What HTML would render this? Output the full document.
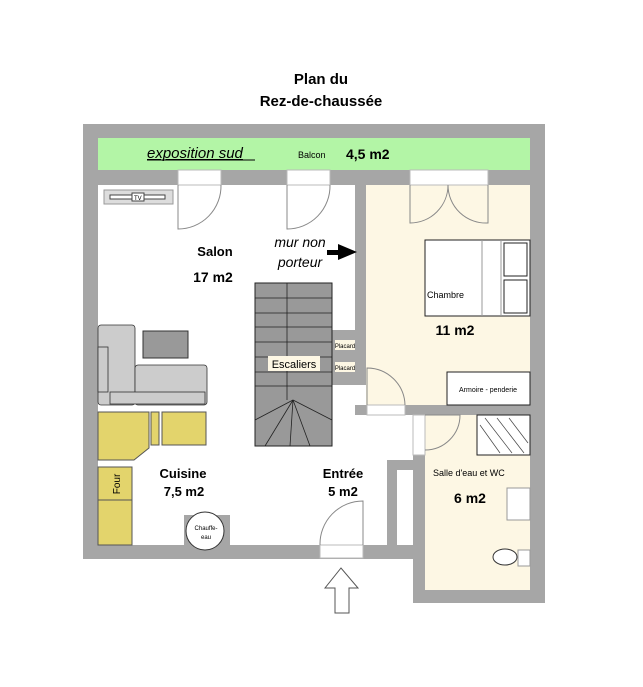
<!DOCTYPE html>
<html><head><style>body{margin:0;background:#fff}svg{display:block}text{font-family:"Liberation Sans",sans-serif}</style></head><body>
<svg width="643" height="687" viewBox="0 0 643 687">
<text x="321" y="84" font-size="15" font-weight="bold" text-anchor="middle">Plan du</text>
<text x="321" y="106" font-size="15" font-weight="bold" text-anchor="middle">Rez-de-chaussée</text>
<!-- outer walls -->
<rect x="83" y="124" width="462" height="435" fill="#a6a6a6"/>
<rect x="413" y="400" width="132" height="203" fill="#a6a6a6"/>
<rect x="98" y="138" width="432" height="32" fill="#b3f5a6"/>
<rect x="98" y="185" width="257" height="360" fill="#fff"/>
<rect x="332" y="330" width="23" height="55" fill="#a6a6a6"/>
<rect x="355" y="385" width="58" height="160" fill="#fff"/>
<rect x="355" y="405" width="58" height="10" fill="#a6a6a6"/>
<rect x="366" y="185" width="164" height="220" fill="#fdf7e4"/>
<rect x="425" y="415" width="105" height="175" fill="#fdf7e4"/>
<rect x="387" y="460" width="26" height="85" fill="#a6a6a6"/>
<rect x="397" y="470" width="16" height="75" fill="#fff"/>
<rect x="184" y="515" width="46" height="30" fill="#a6a6a6"/>
<!-- balcony text -->
<text x="147" y="158" font-size="15" font-style="italic" text-decoration="underline">exposition sud</text>
<line x1="147" y1="160" x2="255" y2="160" stroke="#000"/>
<text x="298" y="158" font-size="9">Balcon</text>
<text x="346" y="159" font-size="14" font-weight="bold">4,5 m2</text>
<!-- balcony doors -->
<g fill="#fff" stroke="#bbb"><rect x="178" y="170" width="43" height="15"/><rect x="287" y="170" width="43" height="15"/><rect x="410" y="170" width="78" height="15"/>
<rect x="367" y="405" width="38" height="10"/><rect x="413" y="415" width="12" height="40"/><rect x="320" y="545" width="43" height="13"/></g>
<g fill="none" stroke="#888"><path d="M178 185 V229 A43 43 0 0 0 221 185"/><path d="M287 185 V229 A43 43 0 0 0 330 185"/>
<path d="M410 185 V223 A38 38 0 0 0 448 185 A38 38 0 0 0 488 223 V185"/><path d="M367 405 V368 A38 38 0 0 1 405 405"/>
<path d="M425 415 H460 A35 35 0 0 1 425 450"/><path d="M363 545 V501 A43 43 0 0 0 320 545"/></g>
<!-- TV -->
<rect x="104" y="190" width="69" height="14" fill="#ddd" stroke="#999"/><rect x="110" y="195" width="55" height="4" fill="#fff" stroke="#444"/><rect x="132" y="193" width="12" height="8" fill="#fff" stroke="#444"/><text x="134" y="200" font-size="6">TV</text>
<text x="215" y="256" font-size="13" font-weight="bold" text-anchor="middle">Salon</text>
<text x="213" y="282" font-size="14" font-weight="bold" text-anchor="middle">17 m2</text>
<text x="300" y="247" font-size="14" font-style="italic" text-anchor="middle">mur non</text>
<text x="300" y="267" font-size="14" font-style="italic" text-anchor="middle">porteur</text>
<path d="M327 250 H338 V244 L357 252 L338 260 V255 H327Z" fill="#000"/>
<!-- sofa -->
<g fill="#ccc" stroke="#333" stroke-width="0.8"><rect x="98" y="325" width="37" height="80" rx="3"/><rect x="135" y="365" width="72" height="40" rx="3"/><rect x="98" y="347" width="10" height="45"/><rect x="110" y="392" width="95" height="12"/></g>
<rect x="143" y="331" width="45" height="27" fill="#999" stroke="#333"/>
<!-- stairs -->
<rect x="255" y="283" width="77" height="163" fill="#999" stroke="#222"/>
<g stroke="#222" stroke-width="0.8"><line x1="287" y1="283" x2="287" y2="400"/>
<line x1="255" y1="298" x2="332" y2="298"/><line x1="255" y1="313" x2="332" y2="313"/><line x1="255" y1="327" x2="332" y2="327"/><line x1="255" y1="342" x2="332" y2="342"/><line x1="255" y1="357" x2="332" y2="357"/><line x1="255" y1="372" x2="332" y2="372"/><line x1="255" y1="386" x2="332" y2="386"/>
<line x1="293" y1="400" x2="255" y2="420"/><line x1="293" y1="400" x2="265" y2="446"/><line x1="293" y1="400" x2="290" y2="446"/><line x1="293" y1="400" x2="310" y2="446"/><line x1="293" y1="400" x2="332" y2="420"/></g>
<rect x="268" y="356" width="52" height="15" fill="#fdf7e4"/><text x="294" y="368" font-size="11" text-anchor="middle">Escaliers</text>
<rect x="335" y="340" width="20" height="10" fill="#fdf7e4"/><text x="345" y="348" font-size="6" text-anchor="middle">Placard</text>
<rect x="335" y="362" width="20" height="10" fill="#fdf7e4"/><text x="345" y="370" font-size="6" text-anchor="middle">Placard</text>
<!-- chambre -->
<rect x="425" y="240" width="105" height="76" fill="#fff" stroke="#222"/><line x1="482" y1="240" x2="482" y2="316" stroke="#999"/><line x1="501" y1="240" x2="501" y2="316" stroke="#999"/>
<rect x="504" y="243" width="23" height="33" fill="#fff" stroke="#222"/><rect x="504" y="280" width="23" height="33" fill="#fff" stroke="#222"/>
<text x="427" y="298" font-size="9">Chambre</text>
<text x="455" y="335" font-size="14" font-weight="bold" text-anchor="middle">11 m2</text>
<rect x="447" y="372" width="83" height="33" fill="#fff" stroke="#222"/><text x="488" y="392" font-size="7" font-family="Liberation Serif" text-anchor="middle">Armoire - penderie</text>
<!-- kitchen -->
<g fill="#e3d46c" stroke="#555"><path d="M98 412 H149 V448 L134 460 H98Z"/><rect x="151" y="412" width="8" height="33"/><rect x="162" y="412" width="44" height="33"/><rect x="98" y="467" width="34" height="33"/><rect x="98" y="500" width="34" height="45"/></g>
<text transform="translate(120,484) rotate(-90)" font-size="10" text-anchor="middle">Four</text>
<text x="183" y="478" font-size="13" font-weight="bold" text-anchor="middle">Cuisine</text>
<text x="184" y="496" font-size="13" font-weight="bold" text-anchor="middle">7,5 m2</text>
<circle cx="205" cy="531" r="19" fill="#fff" stroke="#333"/><text x="206" y="530" font-size="6" text-anchor="middle">Chauffe-</text><text x="206" y="539" font-size="6" text-anchor="middle">eau</text>
<text x="343" y="478" font-size="13" font-weight="bold" text-anchor="middle">Entrée</text>
<text x="343" y="496" font-size="13" font-weight="bold" text-anchor="middle">5 m2</text>
<path d="M335 613 V588 H325 L341 568 L358 588 H349 V613Z" fill="#fff" stroke="#555"/>
<!-- salle d'eau -->
<rect x="477" y="415" width="53" height="40" fill="#fff" stroke="#222"/>
<g stroke="#444" stroke-width="0.7"><line x1="480" y1="425" x2="500" y2="453"/><line x1="485" y1="418" x2="512" y2="453"/><line x1="497" y1="418" x2="524" y2="453"/><line x1="509" y1="418" x2="528" y2="443"/></g>
<text x="433" y="476" font-size="9">Salle d'eau et WC</text>
<text x="470" y="503" font-size="14" font-weight="bold" text-anchor="middle">6 m2</text>
<rect x="507" y="488" width="23" height="32" fill="#fff" stroke="#999"/>
<ellipse cx="505" cy="557" rx="12" ry="8" fill="#fff" stroke="#333"/><rect x="518" y="550" width="12" height="16" fill="#fff" stroke="#999"/>
</svg>
</body></html>
